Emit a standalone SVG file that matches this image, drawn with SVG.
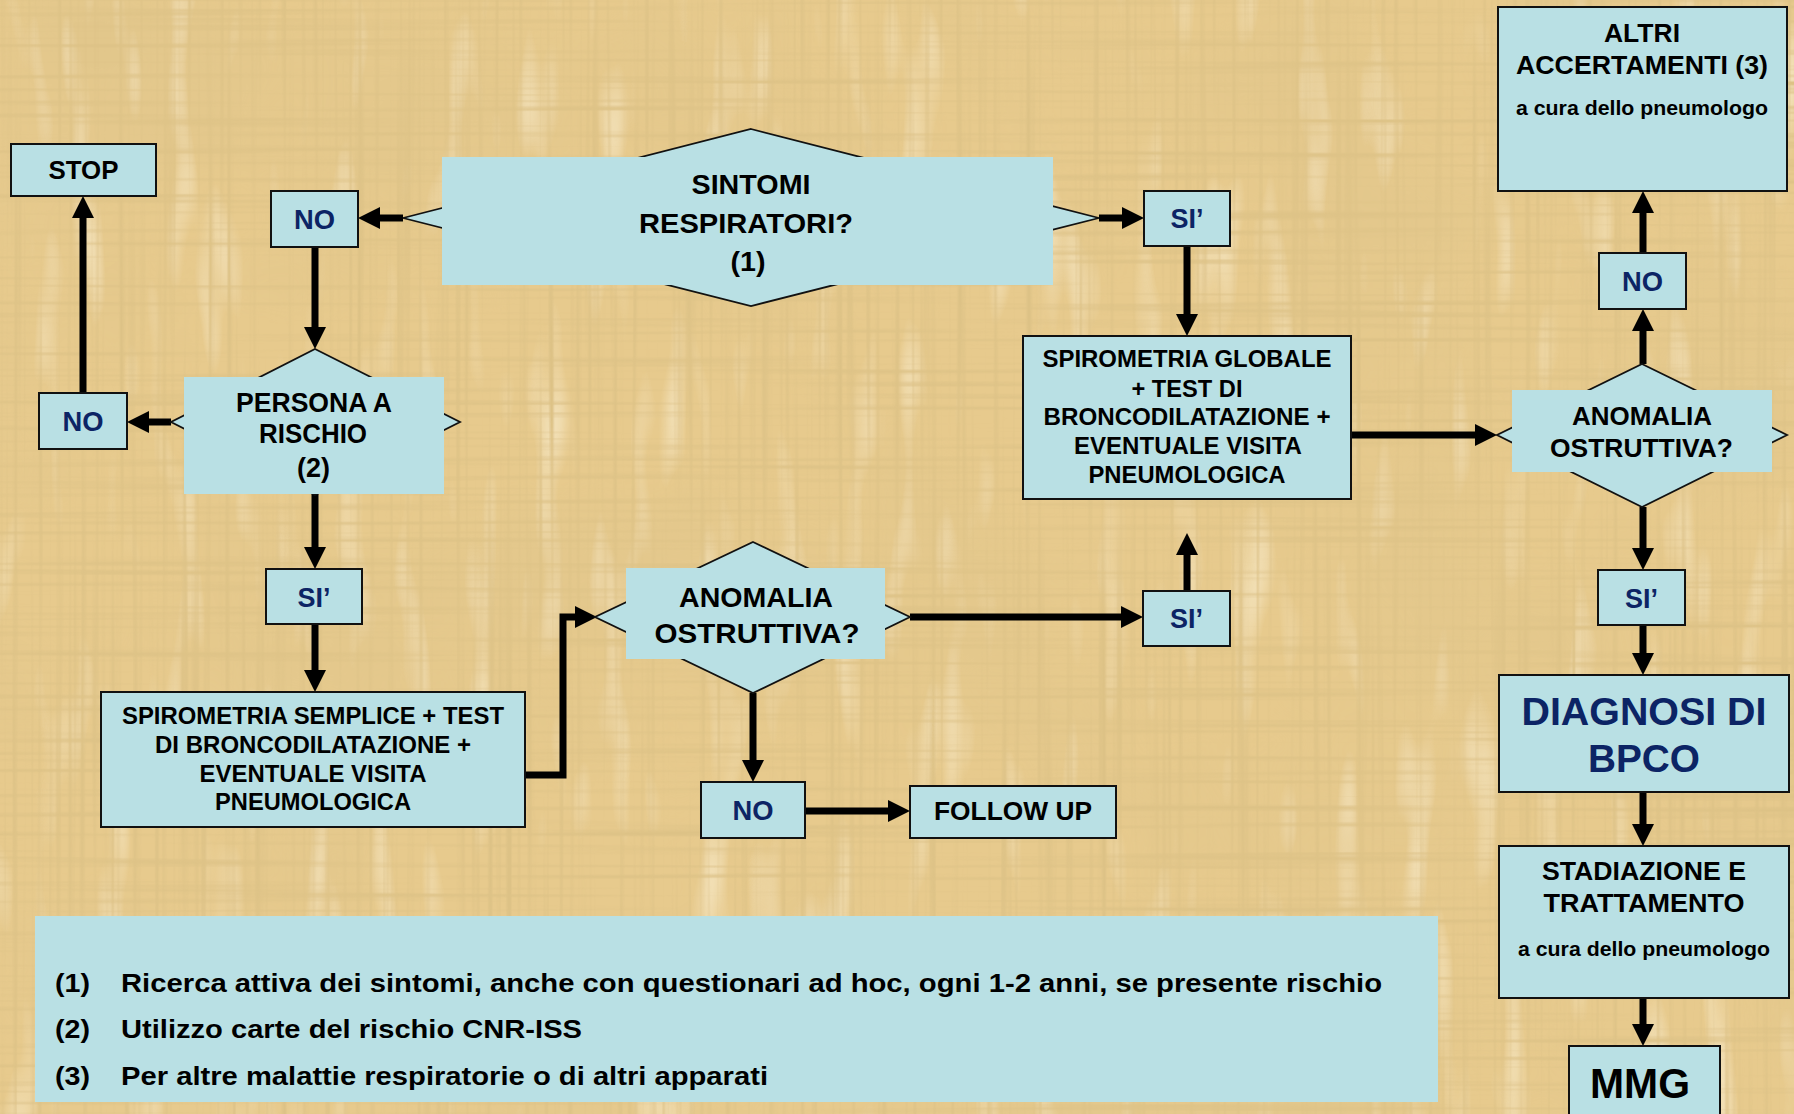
<svg xmlns="http://www.w3.org/2000/svg" width="1794" height="1114" viewBox="0 0 1794 1114">
<style>
.box{fill:#b9e0e4;stroke:#111;stroke-width:2}
.dia{fill:#b9e0e4;stroke:#111;stroke-width:1.8}
.plate{fill:#b9e0e4}
.t{font-family:"Liberation Sans",Arial,sans-serif;font-weight:bold;fill:#000;text-anchor:middle}
.l{font-family:"Liberation Sans",Arial,sans-serif;font-weight:bold;fill:#000;font-size:25px}
.n{fill:#0c2465}
.c{stroke:#000;stroke-width:7;fill:none;marker-end:url(#ah)}
</style>
<defs>
<marker id="ah" markerUnits="userSpaceOnUse" markerWidth="23" markerHeight="22" refX="1" refY="11" orient="auto" viewBox="0 0 23 22">
<path d="M0,0 L22,11 L0,22 z" fill="#000"/>
</marker>
<filter id="paper" x="0" y="0" width="100%" height="100%" filterUnits="objectBoundingBox">
<feTurbulence type="fractalNoise" baseFrequency="0.002 0.16" numOctaves="2" seed="7" result="h"/>
<feColorMatrix in="h" type="matrix" values="0 0 0 0 0.66  0 0 0 0 0.5  0 0 0 0 0.22  3 0 0 0 -1.5" result="hd"/>
<feTurbulence type="fractalNoise" baseFrequency="0.16 0.002" numOctaves="2" seed="13" result="v"/>
<feColorMatrix in="v" type="matrix" values="0 0 0 0 0.66  0 0 0 0 0.5  0 0 0 0 0.22  3 0 0 0 -1.5" result="vd"/>
<feTurbulence type="fractalNoise" baseFrequency="0.03 0.006" numOctaves="2" seed="21" result="w"/>
<feColorMatrix in="w" type="matrix" values="0 0 0 0 0.99  0 0 0 0 0.93  0 0 0 0 0.76  -3 0 0 0 1.3" result="wl"/>
<feTurbulence type="fractalNoise" baseFrequency="0.004 0.004" numOctaves="3" seed="5" result="big"/>
<feColorMatrix in="big" type="matrix" values="0 0 0 0 0.74  0 0 0 0 0.56  0 0 0 0 0.26  2.4 0 0 0 -1.05" result="bd"/>
<feMerge><feMergeNode in="bd"/><feMergeNode in="wl"/><feMergeNode in="hd"/><feMergeNode in="vd"/></feMerge>
</filter>
</defs>

<g id="background">
<rect x="0" y="0" width="1794" height="1114" fill="#e7ca8d"/>
<rect x="0" y="0" width="1794" height="1114" fill="#e7ca8d" filter="url(#paper)" opacity="0.5"/>
</g>

<g id="connectors">
<path class="c" d="M403,218 H379"/>
<path class="c" d="M1099,218 H1123"/>
<path class="c" d="M315,247 V328"/>
<path class="c" d="M171,422 H148"/>
<path class="c" d="M83,393 V217"/>
<path class="c" d="M315,494 V548"/>
<path class="c" d="M315,624 V671"/>
<path class="c" d="M525,775 H563 V617 H576"/>
<path class="c" d="M910,617 H1122"/>
<path class="c" d="M753,693 V761"/>
<path class="c" d="M805,811 H889"/>
<path class="c" d="M1187,591 V554"/>
<path class="c" d="M1187,246 V315"/>
<path class="c" d="M1351,435 H1476"/>
<path class="c" d="M1643,364 V330"/>
<path class="c" d="M1643,253 V212"/>
<path class="c" d="M1643,507 V549"/>
<path class="c" d="M1643,625 V654"/>
<path class="c" d="M1643,792 V825"/>
<path class="c" d="M1643,998 V1025"/>
</g>

<g id="stop">
<rect class="box" x="11" y="144" width="145" height="52"/>
<text class="t" x="83.5" y="179" font-size="26" textLength="70" lengthAdjust="spacingAndGlyphs">STOP</text>
</g>

<g id="no1">
<rect class="box" x="271" y="191" width="87" height="56"/>
<text class="t n" x="314.5" y="229" font-size="28" textLength="41" lengthAdjust="spacingAndGlyphs">NO</text>
</g>

<g id="sintomi">
<polygon class="dia" points="751,129 1099,218 751,306 403,218"/>
<rect class="plate" x="442" y="157" width="611" height="128"/>
<text class="t" x="751" y="194" font-size="28" textLength="119" lengthAdjust="spacingAndGlyphs">SINTOMI</text>
<text class="t" x="746" y="233" font-size="28" textLength="214" lengthAdjust="spacingAndGlyphs">RESPIRATORI?</text>
<text class="t" x="748" y="271" font-size="28" textLength="35" lengthAdjust="spacingAndGlyphs">(1)</text>
</g>

<g id="si1">
<rect class="box" x="1144" y="191" width="86" height="55"/>
<text class="t n" x="1187" y="228" font-size="28" textLength="33" lengthAdjust="spacingAndGlyphs">SI’</text>
</g>

<g id="persona">
<polygon class="dia" points="315,349 460,422 315,495 171,422"/>
<rect class="plate" x="184" y="377" width="260" height="117"/>
<text class="t" x="314" y="412" font-size="27" textLength="156" lengthAdjust="spacingAndGlyphs">PERSONA A</text>
<text class="t" x="313" y="443" font-size="27" textLength="108" lengthAdjust="spacingAndGlyphs">RISCHIO</text>
<text class="t" x="313.5" y="477" font-size="27" textLength="33" lengthAdjust="spacingAndGlyphs">(2)</text>
</g>

<g id="no2">
<rect class="box" x="39" y="393" width="88" height="56"/>
<text class="t n" x="83" y="431" font-size="28" textLength="41" lengthAdjust="spacingAndGlyphs">NO</text>
</g>

<g id="si2">
<rect class="box" x="266" y="569" width="96" height="55"/>
<text class="t n" x="314" y="607" font-size="28" textLength="33" lengthAdjust="spacingAndGlyphs">SI’</text>
</g>

<g id="spirometria-semplice">
<rect class="box" x="101" y="692" width="424" height="135"/>
<text class="t" x="313" y="724" font-size="23" textLength="382" lengthAdjust="spacingAndGlyphs">SPIROMETRIA SEMPLICE + TEST</text>
<text class="t" x="313" y="753" font-size="23" textLength="316" lengthAdjust="spacingAndGlyphs">DI BRONCODILATAZIONE +</text>
<text class="t" x="313" y="782" font-size="23" textLength="227" lengthAdjust="spacingAndGlyphs">EVENTUALE VISITA</text>
<text class="t" x="313" y="810" font-size="23" textLength="196" lengthAdjust="spacingAndGlyphs">PNEUMOLOGICA</text>
</g>

<g id="anomalia1">
<polygon class="dia" points="753,542 910,617 753,693 595,617"/>
<rect class="plate" x="626" y="568" width="259" height="91"/>
<text class="t" x="756" y="607" font-size="28" textLength="154" lengthAdjust="spacingAndGlyphs">ANOMALIA</text>
<text class="t" x="757" y="643" font-size="28" textLength="205" lengthAdjust="spacingAndGlyphs">OSTRUTTIVA?</text>
</g>

<g id="si3">
<rect class="box" x="1143" y="591" width="87" height="55"/>
<text class="t n" x="1186.5" y="628" font-size="28" textLength="33" lengthAdjust="spacingAndGlyphs">SI’</text>
</g>

<g id="no3">
<rect class="box" x="701" y="782" width="104" height="56"/>
<text class="t n" x="753" y="820" font-size="28" textLength="41" lengthAdjust="spacingAndGlyphs">NO</text>
</g>

<g id="followup">
<rect class="box" x="910" y="786" width="206" height="52"/>
<text class="t" x="1013" y="820" font-size="26" textLength="158" lengthAdjust="spacingAndGlyphs">FOLLOW UP</text>
</g>

<g id="spirometria-globale">
<rect class="box" x="1023" y="336" width="328" height="163"/>
<text class="t" x="1187" y="367" font-size="23" textLength="289" lengthAdjust="spacingAndGlyphs">SPIROMETRIA GLOBALE</text>
<text class="t" x="1187" y="397" font-size="23" textLength="111" lengthAdjust="spacingAndGlyphs">+ TEST DI</text>
<text class="t" x="1187" y="425" font-size="23" textLength="287" lengthAdjust="spacingAndGlyphs">BRONCODILATAZIONE +</text>
<text class="t" x="1188" y="454" font-size="23" textLength="228" lengthAdjust="spacingAndGlyphs">EVENTUALE VISITA</text>
<text class="t" x="1187" y="483" font-size="23" textLength="197" lengthAdjust="spacingAndGlyphs">PNEUMOLOGICA</text>
</g>

<g id="anomalia2">
<polygon class="dia" points="1642,364 1787,435 1642,507 1497,435"/>
<rect class="plate" x="1512" y="390" width="260" height="82"/>
<text class="t" x="1642" y="425" font-size="25" textLength="140" lengthAdjust="spacingAndGlyphs">ANOMALIA</text>
<text class="t" x="1641.5" y="457" font-size="25" textLength="183" lengthAdjust="spacingAndGlyphs">OSTRUTTIVA?</text>
</g>

<g id="no4">
<rect class="box" x="1599" y="253" width="87" height="56"/>
<text class="t n" x="1642.5" y="291" font-size="28" textLength="41" lengthAdjust="spacingAndGlyphs">NO</text>
</g>

<g id="altri">
<rect class="box" x="1498" y="7" width="289" height="184"/>
<text class="t" x="1642" y="42" font-size="25" textLength="76" lengthAdjust="spacingAndGlyphs">ALTRI</text>
<text class="t" x="1642" y="74" font-size="25" textLength="252" lengthAdjust="spacingAndGlyphs">ACCERTAMENTI (3)</text>
<text class="t" x="1642" y="115" font-size="20" textLength="252" lengthAdjust="spacingAndGlyphs">a cura dello pneumologo</text>
</g>

<g id="si4">
<rect class="box" x="1598" y="570" width="87" height="55"/>
<text class="t n" x="1641.5" y="608" font-size="28" textLength="33" lengthAdjust="spacingAndGlyphs">SI’</text>
</g>

<g id="diagnosi">
<rect class="box" x="1499" y="675" width="290" height="117"/>
<text class="t n" x="1644" y="725" font-size="39" textLength="245" lengthAdjust="spacingAndGlyphs">DIAGNOSI DI</text>
<text class="t n" x="1644" y="772" font-size="39" textLength="112" lengthAdjust="spacingAndGlyphs">BPCO</text>
</g>

<g id="stadiazione">
<rect class="box" x="1499" y="846" width="290" height="152"/>
<text class="t" x="1644" y="880" font-size="25" textLength="204" lengthAdjust="spacingAndGlyphs">STADIAZIONE E</text>
<text class="t" x="1644" y="912" font-size="25" textLength="201" lengthAdjust="spacingAndGlyphs">TRATTAMENTO</text>
<text class="t" x="1644" y="956" font-size="20" textLength="252" lengthAdjust="spacingAndGlyphs">a cura dello pneumologo</text>
</g>

<g id="mmg">
<rect class="box" x="1569" y="1046" width="151" height="80"/>
<text class="t" x="1640" y="1098" font-size="43" textLength="100" lengthAdjust="spacingAndGlyphs">MMG</text>
</g>

<g id="legend">
<rect class="plate" x="35" y="916" width="1403" height="186"/>
<text class="l" x="55" y="992" textLength="35" lengthAdjust="spacingAndGlyphs">(1)</text>
<text class="l" x="121" y="992" textLength="1261" lengthAdjust="spacingAndGlyphs">Ricerca attiva dei sintomi, anche con questionari ad hoc, ogni 1-2 anni, se presente rischio</text>
<text class="l" x="55" y="1038" textLength="35" lengthAdjust="spacingAndGlyphs">(2)</text>
<text class="l" x="121" y="1038" textLength="461" lengthAdjust="spacingAndGlyphs">Utilizzo carte del rischio CNR-ISS</text>
<text class="l" x="55" y="1085" textLength="35" lengthAdjust="spacingAndGlyphs">(3)</text>
<text class="l" x="121" y="1085" textLength="647" lengthAdjust="spacingAndGlyphs">Per altre malattie respiratorie o di altri apparati</text>
</g>
</svg>
